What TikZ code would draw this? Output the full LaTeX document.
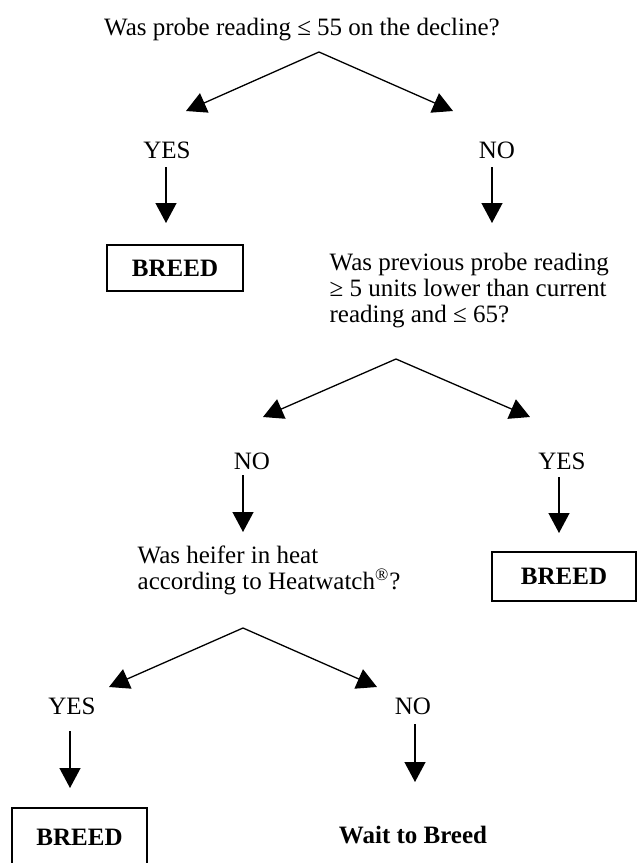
\documentclass[tikz,border=0pt]{standalone}
\usepackage{fontspec}
\setmainfont{Liberation Serif}
\usetikzlibrary{positioning, arrows.meta, calc}

\begin{document}
\begin{tikzpicture}[x=0.5pt, y=-0.5pt, line width=0.65pt,
          t/.style={inner sep=0pt, font=\fontsize{12.5}{13}\selectfont},
          q/.style={t, align=left, anchor=west},
          box/.style={draw, line width=0.65pt, inner sep=0pt, font=\fontsize{12.5}{13}\selectfont\bfseries},
          arr/.style={-{Triangle[length=10pt, width=10.5pt]}}]
        \useasboundingbox (0,0) rectangle (637,863);
        % first question
        \node[t] (q1) at (302,30) {Was probe reading ≤ 55 on the decline?};
        \coordinate (a1) at (319,52);
        \coordinate (l1) at (186,111);
        \coordinate (r1) at (453,111);
        \node[t] (y1) at (167,150) {YES};
        \node[t] (n1) at (497,150) {NO};
        \node[box, minimum width=68pt, minimum height=23pt] (b1) at (175,268) {BREED};
        \draw[arr] (a1)--(l1);
        \draw[arr] (a1)--(r1);
        \draw[arr] (166,167)--(166,223);
        \draw[arr] (492,167)--(492,223);
        % second question
        \node[q] (q2) at (329,291) {Was previous probe reading\\≥ 5 units lower than current\\reading and ≤ 65?};
        \coordinate (a2) at (396,359);
        \coordinate (l2) at (263,417);
        \coordinate (r2) at (530,417);
        \node[t] (n2) at (252,461) {NO};
        \node[t] (y2) at (562,461) {YES};
        \node[box, minimum width=72pt, minimum height=24.5pt] (b2) at (564,576.5) {BREED};
        \draw[arr] (a2)--(l2);
        \draw[arr] (a2)--(r2);
        \draw[arr] (243,475)--(243,532);
        \draw[arr] (559,477)--(559,533);
        % third question
        \node[q] (q3) at (137,570) {Was heifer in heat\\according to Heatwatch\textsuperscript{\textregistered}?};
        \coordinate (a3) at (243,628);
        \coordinate (l3) at (109,687);
        \coordinate (r3) at (377,687);
        \node[t] (y3) at (72,706) {YES};
        \node[t] (n3) at (413,706) {NO};
        \node[box, minimum width=67.5pt, minimum height=29pt] (b3) at (79.5,837) {BREED};
        \node[t, font=\fontsize{12.5}{13}\selectfont\bfseries] (w3) at (413,835) {Wait to Breed};
        \draw[arr] (a3)--(l3);
        \draw[arr] (a3)--(r3);
        \draw[arr] (70,731)--(70,788);
        \draw[arr] (415,724)--(415,782);
      \end{tikzpicture}
\end{document}
